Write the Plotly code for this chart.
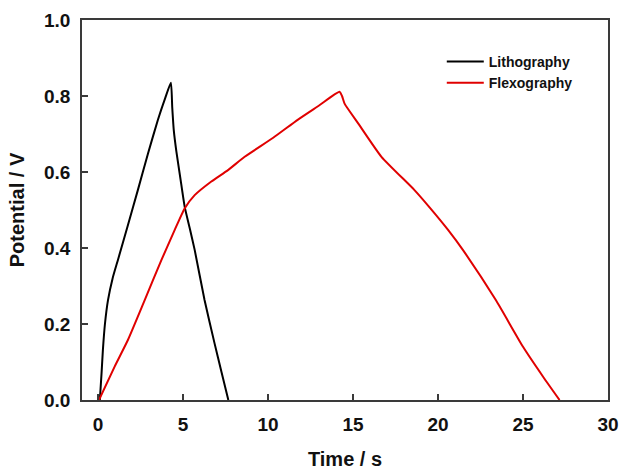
import plotly.graph_objects as go

# Lithography (black)
litho_t = [0.1, 0.2, 0.28, 0.4, 0.58, 0.85, 1.16, 1.75, 2.34, 2.93, 3.5, 3.95, 4.28,
           4.36, 4.45, 4.6, 4.85, 5.09, 5.4, 5.68, 6.26, 6.85, 7.25, 7.66]
litho_v = [0.0, 0.07, 0.132, 0.2, 0.263, 0.32, 0.368, 0.46, 0.553, 0.648, 0.735, 0.795, 0.835,
           0.77, 0.71, 0.655, 0.58, 0.509, 0.45, 0.395, 0.263, 0.149, 0.075, 0.0]

# Flexography (red)
flexo_t = [0.05, 0.97, 1.75, 2.74, 3.72, 4.5, 5.09, 5.68, 6.66, 7.64, 8.62, 10.3, 11.76, 13.0, 14.2,
           14.35, 14.5, 15.3, 16.67, 18.6, 19.5, 20.6, 21.46, 23.4, 25.0, 26.2, 27.15]
flexo_v = [0.0, 0.088, 0.158, 0.263, 0.368, 0.447, 0.504, 0.539, 0.575, 0.605, 0.64, 0.69, 0.738, 0.775, 0.811,
           0.80, 0.78, 0.728, 0.64, 0.553, 0.507, 0.447, 0.395, 0.263, 0.14, 0.06, 0.0]

x_ticks = [0, 5, 10, 15, 20, 25, 30]
y_ticks = [0.0, 0.2, 0.4, 0.6, 0.8, 1.0]
y_ticklabels = ["0.0", "0.2", "0.4", "0.6", "0.8", "1.0"]

fig = go.Figure()
fig.add_trace(go.Scatter(x=litho_t, y=litho_v, mode="lines", name="<b>Lithography</b>",
                         line=dict(color="#000000", width=2, shape="spline", smoothing=0.5)))
fig.add_trace(go.Scatter(x=flexo_t, y=flexo_v, mode="lines", name="<b>Flexography</b>",
                         line=dict(color="#e00000", width=2, shape="spline", smoothing=0.5)))

font_family = "Liberation Sans, Arial, sans-serif"
axis_common = dict(showgrid=False, zeroline=False, showline=True, linecolor="#3a3a3a", linewidth=1.5,
                   mirror=True, ticks="inside", ticklen=6, tickwidth=1.5, tickcolor="#3a3a3a",
                   automargin=False,
                   tickfont=dict(family=font_family, size=19, color="#111111"))

fig.update_layout(
    width=622, height=470,
    margin=dict(l=82, r=14, t=20, b=70),
    paper_bgcolor="white", plot_bgcolor="white",
    font=dict(family=font_family, color="#111111"),
    xaxis=dict(range=[-0.95, 30], tickvals=x_ticks, ticktext=["<b>%d</b>" % t for t in x_ticks],
               ticklabelstandoff=6,
               title=dict(text="<b>Time / s</b>", font=dict(size=20), standoff=18), **axis_common),
    yaxis=dict(range=[0, 1], tickvals=y_ticks, ticktext=["<b>%s</b>" % t for t in y_ticklabels],
               ticklabelstandoff=6,
               title=dict(text="<b>Potential / V</b>", font=dict(size=20), standoff=14), **axis_common),
    legend=dict(x=0.684, y=0.932, xanchor="left", yanchor="top", bgcolor="rgba(0,0,0,0)",
                itemwidth=37,
                font=dict(family=font_family, size=14, color="#111111"), tracegroupgap=0),
    showlegend=True,
)

fig.write_html("out.html", config={"displayModeBar": False},
               post_script="document.body.style.margin='0';document.body.style.overflow='hidden';")
